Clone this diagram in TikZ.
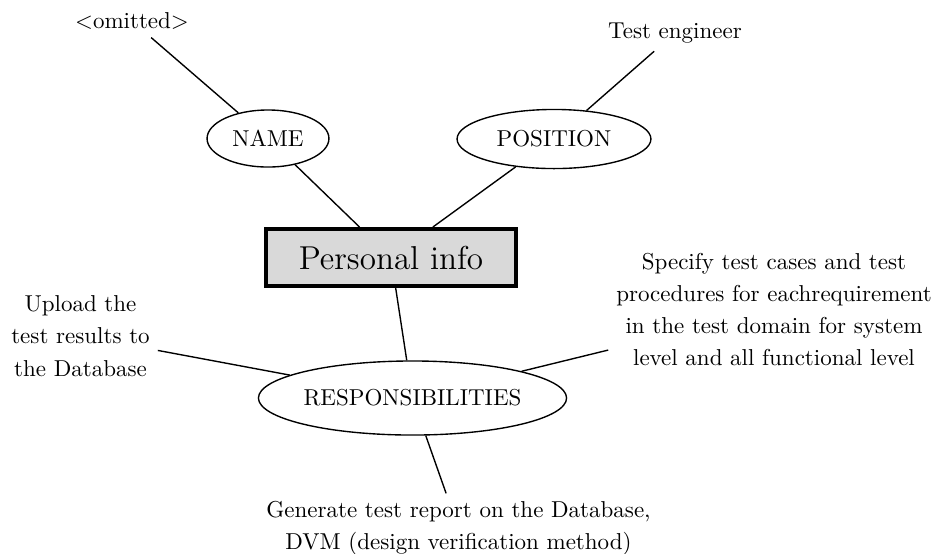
\documentclass[tikz,border=0pt]{standalone}
\usetikzlibrary{shapes.geometric}
\begin{document}
\begin{tikzpicture}[x=0.4348pt, y=-0.4348pt,
  attr/.style={draw, line width=0.6pt, ellipse, inner sep=0pt},
  hub/.style={draw, line width=1.6pt, fill=black!15, font=\Large,
    minimum width=108.8pt, minimum height=24.9pt},
  note/.style={align=center, font=\fontsize{10}{14}\selectfont},
  link/.style={draw, line width=0.6pt}]
  \useasboundingbox (0,0) rectangle (936,553);

  % central entity
  \node[hub] (core) at (391,257.5) {Personal info};

  % attributes
  \node[attr, minimum width=53pt, minimum height=24.8pt] (name) at (268,138.5) {NAME};
  \node[attr, minimum width=84.3pt, minimum height=25.7pt] (pos) at (554,139) {POSITION};
  \node[attr, minimum width=128.3pt, minimum height=32.2pt] (resp) at (412.5,398) {RESPONSIBILITIES};

  % values
  \node[note] (nameval) at (132,21) {<omitted>};
  \node[note] (posval) at (675,33) {Test engineer};
  \node[note] (upload) at (80.5,336) {Upload the\\test results to\\the Database};
  \node[note] (spec) at (774,309.6) {Specify test cases and test\\procedures for eachrequirement\\in the test domain for system\\level and all functional level};
  \node[note] (gen) at (458.5,528.5) {Generate test report on the Database,\\DVM (design verification method)};

  % connectors
  \draw[link] (nameval) -- (name);
  \draw[link] (name) -- (core);
  \draw[link] (posval) -- (pos);
  \draw[link] (pos) -- (core);
  \draw[link] (core) -- (resp);
  \draw[link] (resp) -- (upload);
  \draw[link] (resp) -- (spec);
  \draw[link] (resp) -- (gen);
\end{tikzpicture}
\end{document}
